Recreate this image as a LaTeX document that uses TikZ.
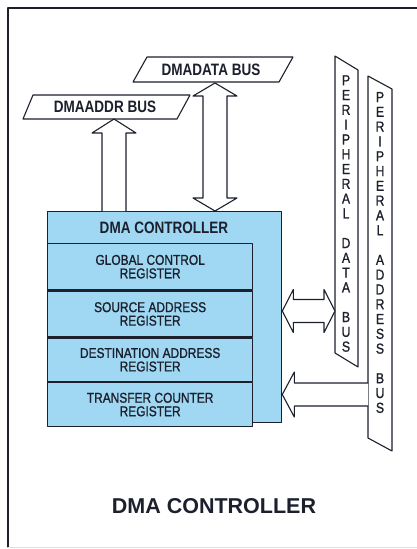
\documentclass[tikz,border=0pt]{standalone}
\usepackage{fontspec}
\setmainfont{Liberation Sans}
\newfontfamily\condfont{Liberation Sans}[FakeStretch=0.82]
\newfontfamily\condmed{Liberation Sans}[FakeStretch=0.84,FakeBold=1.2]
\usetikzlibrary{calc}
\definecolor{regblue}{RGB}{160,216,244}
\definecolor{inkline}{RGB}{28,32,44}
\tikzset{
  busline/.style={draw=inkline,line width=1.1pt,fill=white},
  arrowshape/.style={draw=inkline,line width=1.1pt,fill=white},
  buslabel/.style={text=inkline,font={\condfont\bfseries\fontsize{16.5}{18}\selectfont},inner sep=0pt},
  vertlabel/.style={text=inkline,font={\condmed\fontsize{14.5}{14.8}\selectfont},align=center,inner sep=0pt},
  ctrlbox/.style={draw=inkline,line width=1.3pt,fill=regblue,inner sep=0pt},
  regbox/.style={draw=inkline,line width=1.3pt,fill=regblue,inner sep=0pt,minimum width=205pt,
    text=inkline,align=center,font={\condmed\fontsize{14.2}{13.5}\selectfont}},
}
\begin{document}
\begin{tikzpicture}[x=1pt,y=-1pt,line cap=round,line join=round]
  \useasboundingbox (0,0) rectangle (417,549);
  \draw[line width=1.2pt,draw=inkline] (8,547) -- (8,8) -- (417,8);
  \draw[line width=0.6pt,draw=black!12] (8,547) -- (417,547);

  \draw[busline] (23,119) -- (33,95) -- (190,95) -- (177,119) -- cycle;
  \draw[busline] (133,82) -- (147,57) -- (293,57) -- (279,82) -- cycle;
  \draw[busline] (335,56) -- (358,70) -- (358,367) -- (335,353) -- cycle;
  \draw[busline] (368,76) -- (392,89) -- (392,451) -- (368,438) -- cycle;
  \node[buslabel] (addrbus) at (105,107) {DMAADDR BUS};
  \node[buslabel] (databus) at (211,70) {DMADATA BUS};
  \node[vertlabel] (pdata) at (346,213.5) {P\\E\\R\\I\\P\\H\\E\\R\\A\\L\\[14.8pt]D\\A\\T\\A\\[14.8pt]B\\U\\S};
  \node[vertlabel] (paddr) at (380,252.5) {P\\E\\R\\I\\P\\H\\E\\R\\A\\L\\[14.8pt]A\\D\\D\\R\\E\\S\\S\\[14.8pt]B\\U\\S};

  \node[ctrlbox,minimum width=234pt,minimum height=211pt,anchor=north west] (ctrl) at (47,211) {};
  \node[buslabel] (ctrltitle) at (164,227.5) {DMA CONTROLLER};
  \node[regbox,minimum height=46pt,anchor=north west] (globreg) at (47,243) {GLOBAL CONTROL\\REGISTER};
  \node[regbox,minimum height=46pt,anchor=north] (srcreg) at (globreg.south) {SOURCE ADDRESS\\REGISTER};
  \node[regbox,minimum height=43pt,anchor=north] (dstreg) at (srcreg.south) {DESTINATION ADDRESS\\REGISTER};
  \node[regbox,minimum height=44pt,anchor=north] (cntreg) at (dstreg.south) {TRANSFER COUNTER\\REGISTER};

  \coordinate (addrtip) at (114,119);
  \draw[arrowshape] ($(addrtip |- ctrl.north)+(-12,0)$) -- ($(addrtip)+(-12,14)$) -- ($(addrtip)+(-22,14)$)
    -- (addrtip) -- ($(addrtip)+(22,14)$) -- ($(addrtip)+(12,14)$) -- ($(addrtip |- ctrl.north)+(12,0)$);

  \coordinate (datatop) at (215,83);
  \coordinate (databot) at (datatop |- ctrl.north);
  \draw[arrowshape] (datatop) -- ($(datatop)+(22,13)$) -- ($(datatop)+(12,13)$) -- ($(databot)+(12,-13)$)
    -- ($(databot)+(22,-13)$) -- (databot) -- ($(databot)+(-22,-13)$) -- ($(databot)+(-12,-13)$)
    -- ($(datatop)+(-12,13)$) -- ($(datatop)+(-22,13)$) -- cycle;

  \coordinate (pdin) at (335,311);
  \coordinate (pdout) at (pdin -| ctrl.east);
  \draw[arrowshape] (pdin) -- ($(pdin)+(-11,-21.5)$) -- ($(pdin)+(-11,-11.5)$) -- ($(pdout)+(11,-11.5)$)
    -- ($(pdout)+(11,-21.5)$) -- (pdout) -- ($(pdout)+(11,21.5)$) -- ($(pdout)+(11,11.5)$)
    -- ($(pdin)+(-11,11.5)$) -- ($(pdin)+(-11,21.5)$) -- cycle;

  \coordinate (pain) at (368,394.5);
  \coordinate (paout) at (pain -| ctrl.east);
  \draw[arrowshape] ($(pain)+(0,-11.5)$) -- ($(paout)+(12,-11.5)$) -- ($(paout)+(12,-22.5)$) -- (paout)
    -- ($(paout)+(12,22.5)$) -- ($(paout)+(12,11.5)$) -- ($(pain)+(0,11.5)$);

  \node[text=inkline,font={\bfseries\fontsize{21.5}{24}\selectfont},inner sep=0pt] (caption) at (214,506) {DMA CONTROLLER};
\end{tikzpicture}
\end{document}
